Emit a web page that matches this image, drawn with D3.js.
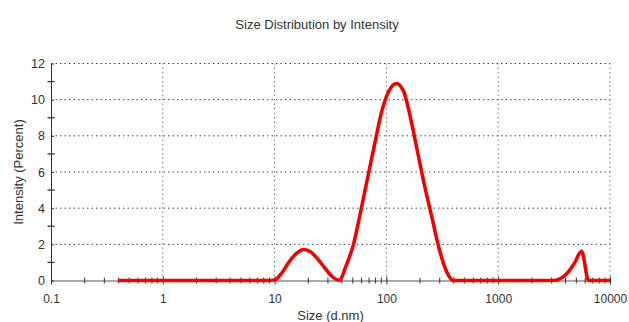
<!DOCTYPE html>
<html>
<head>
<meta charset="utf-8">
<script src="https://cdn.jsdelivr.net/npm/d3@7"></script>
<style>
  body { margin: 0; background: #fff; }
  text { font-family: "Liberation Sans", Arial, sans-serif; fill: #333; }
</style>
</head>
<body>
<div id="svganchor"></div>
<script>
let width = 629;
let height = 322;
let margin = ({top: 63.5, right: 19, bottom: 41.5, left: 51});

// size bins (d.nm) and intensity (%)
let sizes = [0.4, 0.4632, 0.5365, 0.6213, 0.7195, 0.8332, 0.9649, 1.117, 1.294, 1.499,
    1.736, 2.010, 2.328, 2.696, 3.122, 3.615, 4.187, 4.849, 5.615, 6.503,
    7.531, 8.721, 10.10, 11.70, 13.54, 15.69, 18.17, 21.04, 24.36, 28.21,
    32.67, 37.84, 43.82, 50.75, 58.77, 68.06, 78.82, 91.28, 105.7, 122.4,
    141.8, 164.2, 190.1, 220.2, 255.0, 295.3, 342.0, 396.1, 458.7, 531.2,
    615.1, 712.4, 825.0, 955.4, 1106, 1281, 1484, 1718, 1990, 2305,
    2669, 3091, 3580, 4145, 4801, 5560, 6439, 7456, 8635, 10000];
let intensity = [0, 0, 0, 0, 0, 0, 0, 0, 0, 0,
    0, 0, 0, 0, 0, 0, 0, 0, 0, 0,
    0, 0, 0.05, 0.45, 1.05, 1.5, 1.72, 1.58, 1.18, 0.68,
    0.22, 0.02, 0.85, 2.0, 3.8, 5.7, 7.6, 9.4, 10.5, 10.9,
    10.5, 9.0, 7.1, 5.2, 3.5, 1.8, 0.55, 0, 0, 0,
    0, 0, 0, 0, 0, 0, 0, 0, 0, 0,
    0, 0, 0.1, 0.4, 0.95, 1.62, 0, 0, 0, 0];

let xMajor = [0.1, 1, 10, 100, 1000, 10000];
let xMajorLabels = ["0.1", "1", "10", "100", "1000", "10000"];
let yMajor = [0, 2, 4, 6, 8, 10, 12];
let yMinor = [1, 3, 5, 7, 9, 11];

let data = sizes.map((s, i) => ({size: s, value: intensity[i]}));

let svg = d3.select("#svganchor")
    .append("svg")
    .attr("width", width)
    .attr("height", height);

let xScale = d3.scaleLog()
    .domain([0.1, 10000])
    .range([margin.left, width - margin.right]);

let yScale = d3.scaleLinear()
    .domain([0, 12])
    .range([height - margin.bottom, margin.top]);

let xMinor = [];
for (let d = 0.1; d < 10000; d *= 10) {
    for (let k = 2; k <= 9; k++) xMinor.push(+(d * k).toPrecision(3));
}

// dotted grid
svg.append("g")
    .selectAll("line")
    .data(yMajor.slice(1))
    .enter().append("line")
    .attr("x1", margin.left)
    .attr("x2", width - margin.right)
    .attr("y1", d => yScale(d))
    .attr("y2", d => yScale(d))
    .attr("stroke", "#444")
    .attr("stroke-width", 1)
    .attr("stroke-dasharray", "1.5,3");

svg.append("g")
    .selectAll("line")
    .data(xMajor.slice(1))
    .enter().append("line")
    .attr("x1", d => xScale(d))
    .attr("x2", d => xScale(d))
    .attr("y1", yScale(0))
    .attr("y2", yScale(12))
    .attr("stroke", "#777")
    .attr("stroke-width", 1)
    .attr("stroke-dasharray", "1.5,3");

// x axis
let xAxis = d3.axisBottom(xScale)
    .tickValues(xMajor)
    .tickFormat((d, i) => xMajorLabels[i])
    .tickSize(4)
    .tickPadding(10)
    .tickSizeOuter(0);

let gx = svg.append("g")
    .attr("transform", "translate(0," + yScale(0) + ")")
    .call(xAxis);
gx.select(".domain").attr("stroke", "#555");
gx.selectAll(".tick line").attr("stroke", "#333").attr("y1", -4);
gx.selectAll(".tick text").style("font-size", "12px").attr("fill", "#333");

gx.selectAll(".minor")
    .data(xMinor)
    .enter().append("line")
    .attr("class", "minor")
    .attr("x1", d => xScale(d))
    .attr("x2", d => xScale(d))
    .attr("y1", -3)
    .attr("y2", 3)
    .attr("stroke", "#333");

// y axis
let yAxis = d3.axisLeft(yScale)
    .tickValues(yMajor)
    .tickSize(4)
    .tickPadding(2)
    .tickSizeOuter(0);

let gy = svg.append("g")
    .attr("transform", "translate(" + margin.left + ",0)")
    .call(yAxis);
gy.select(".domain").attr("stroke", "#333");
gy.selectAll(".tick line").attr("stroke", "#333").attr("x2", 3);
gy.selectAll(".tick text").style("font-size", "12.5px").attr("fill", "#333");

gy.selectAll(".minor")
    .data(yMinor)
    .enter().append("line")
    .attr("class", "minor")
    .attr("x1", -3.5)
    .attr("x2", 3.5)
    .attr("y1", d => yScale(d))
    .attr("y2", d => yScale(d))
    .attr("stroke", "#333")
    .attr("stroke-width", 1.3);

// distribution curve
let line = d3.line()
    .x(d => xScale(d.size))
    .y(d => yScale(d.value))
    .curve(d3.curveMonotoneX);

svg.append("path")
    .datum(data)
    .attr("fill", "none")
    .attr("stroke", "#f20000")
    .attr("stroke-width", 3.5)
    .attr("stroke-linejoin", "round")
    .attr("d", line);

// titles
svg.append("text")
    .attr("x", 317)
    .attr("y", 29)
    .style("text-anchor", "middle")
    .style("font-size", "13px")
    .text("Size Distribution by Intensity");

svg.append("text")
    .attr("x", (margin.left + width - margin.right) / 2)
    .attr("y", 320)
    .style("text-anchor", "middle")
    .style("font-size", "13px")
    .text("Size (d.nm)");

svg.append("text")
    .attr("transform", "translate(23," + (yScale(6)) + ") rotate(-90)")
    .style("text-anchor", "middle")
    .style("font-size", "13px")
    .text("Intensity (Percent)");
</script>
</body>
</html>
